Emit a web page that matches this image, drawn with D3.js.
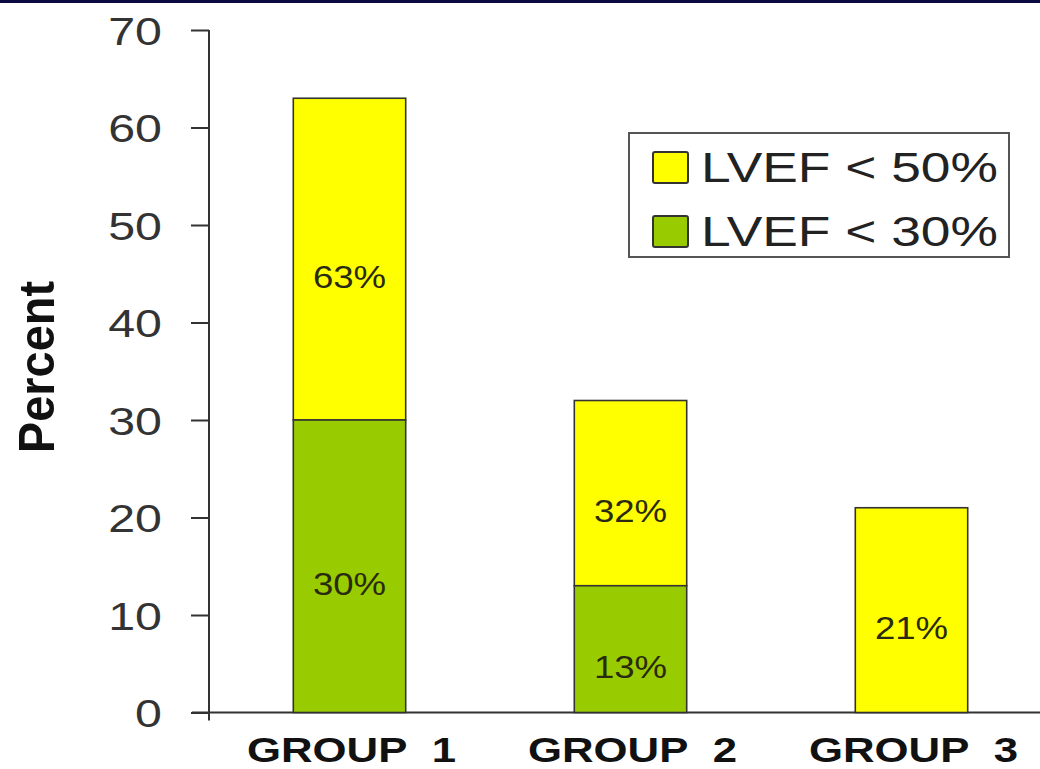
<!DOCTYPE html>
<html>
<head>
<meta charset="utf-8">
<script src="https://cdn.jsdelivr.net/npm/d3@7"></script>
<style>
html,body{margin:0;padding:0;background:#fff;}
svg{display:block;}
text{font-family:"Liberation Sans",Arial,sans-serif;}
</style>
</head>
<body>
<script>
const categories = ["GROUP 1", "GROUP 2", "GROUP 3"];
const lvef50 = [63, 32, 21];
const lvef30 = [30, 13, 0];
const seriesNames = ["LVEF < 50%", "LVEF < 30%"];
const seriesColors = ["#FFFF00", "#99CC00"];
const yTicks = [0, 10, 20, 30, 40, 50, 60, 70];
const yLabel = "Percent";

const W = 1040, H = 769, SX = 1.24;
const svg = d3.select("body").append("svg").attr("width", W).attr("height", H);

svg.append("rect").attr("x", 0).attr("y", 0).attr("width", W).attr("height", 3).attr("fill", "#0a0a40");

const y = d3.scaleLinear().domain([0, 70]).range([712.5, 30]);
const x = d3.scaleBand().domain(categories).range([209, 1052]).paddingInner(0.6).paddingOuter(0.3);

// y axis
const yAxis = d3.axisLeft(y).tickValues(yTicks).tickSize(18).tickSizeOuter(0);
const gy = svg.append("g").attr("transform", "translate(209,0)").call(yAxis);
gy.select(".domain").remove();
gy.selectAll(".tick line").attr("stroke", "#333").attr("stroke-width", 2);
gy.selectAll(".tick text")
  .attr("x", null).attr("dy", null)
  .attr("font-size", 39).attr("fill", "#333")
  .attr("text-anchor", "end")
  .attr("transform", "translate(-47,14) scale(" + SX + ",1)");

svg.append("line").attr("x1", 209).attr("x2", 209).attr("y1", y(70)).attr("y2", y(0) + 8)
  .attr("stroke", "#333").attr("stroke-width", 2);
svg.append("line").attr("x1", 192).attr("x2", W).attr("y1", y(0)).attr("y2", y(0))
  .attr("stroke", "#333").attr("stroke-width", 2);

// bars
const bars = svg.append("g");
categories.forEach((c, i) => {
  bars.append("rect").attr("x", x(c)).attr("width", x.bandwidth())
    .attr("y", y(lvef50[i])).attr("height", y(lvef30[i]) - y(lvef50[i]))
    .attr("fill", seriesColors[0]).attr("stroke", "#333").attr("stroke-width", 1.6);
  if (lvef30[i] > 0) {
    bars.append("rect").attr("x", x(c)).attr("width", x.bandwidth())
      .attr("y", y(lvef30[i])).attr("height", y(0) - y(lvef30[i]))
      .attr("fill", seriesColors[1]).attr("stroke", "#333").attr("stroke-width", 1.6);
  }
});

// value labels
const labels = svg.append("g");
function valLabel(cx, mid, txt) {
  labels.append("text").text(txt)
    .attr("text-anchor", "middle").attr("font-size", 31).attr("fill", "#2a2a10")
    .attr("transform", "translate(" + cx + "," + (mid + 29) + ") scale(1.18,1)");
}
categories.forEach((c, i) => {
  const cx = x(c) + x.bandwidth() / 2;
  valLabel(cx, y((lvef50[i] + lvef30[i]) / 2), lvef50[i] + "%");
  if (lvef30[i] > 0) valLabel(cx, y(lvef30[i] / 2), lvef30[i] + "%");
});

// x labels
svg.append("g").selectAll("text").data(categories).join("text")
  .text(d => d.replace(" ", "\u00A0\u00A0"))
  .attr("text-anchor", "middle").attr("font-size", 35).attr("font-weight", "bold").attr("fill", "#111")
  .attr("transform", d => "translate(" + (x(d) + x.bandwidth() / 2 + 2) + ",762) scale(1.25,1)");

// y label
svg.append("text").text(yLabel)
  .attr("text-anchor", "middle").attr("font-size", 47).attr("font-weight", "bold").attr("fill", "#111")
  .attr("transform", "translate(54,367) scale(1.08,1) rotate(-90)");

// legend
const lg = svg.append("g");
lg.append("rect").attr("x", 629).attr("y", 133).attr("width", 380).attr("height", 124)
  .attr("fill", "#fff").attr("stroke", "#555").attr("stroke-width", 2);
seriesNames.forEach((n, i) => {
  const yy = 152 + i * 64;
  lg.append("rect").attr("x", 653).attr("y", yy).attr("width", 35).attr("height", 31)
    .attr("fill", seriesColors[i]).attr("stroke", "#333").attr("stroke-width", 2).attr("rx", 2);
  lg.append("text").text(n).attr("font-size", 42).attr("fill", "#222")
    .attr("transform", "translate(701," + (yy + 30) + ") scale(1.27,1)");
});
</script>
</body>
</html>
